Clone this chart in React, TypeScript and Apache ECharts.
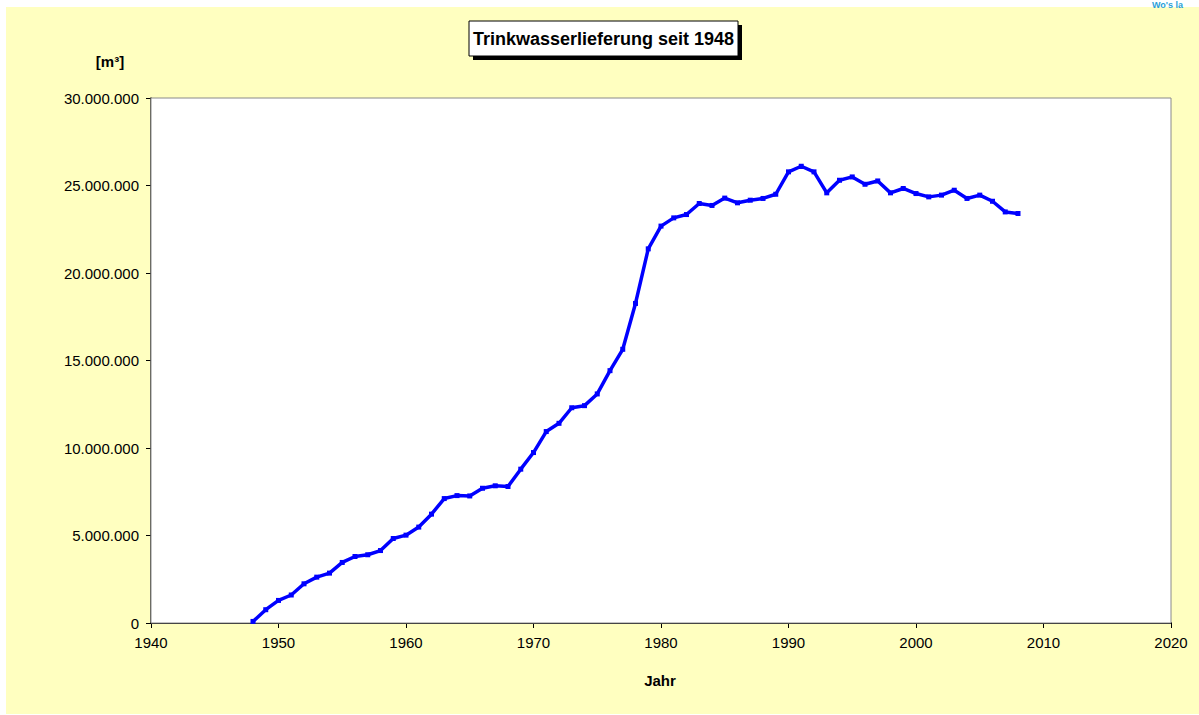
import React, { useEffect, useRef } from "react";
import * as echarts from "echarts";

const years: number[] = [
  1948, 1949, 1950, 1951, 1952, 1953, 1954, 1955, 1956, 1957, 1958, 1959,
  1960, 1961, 1962, 1963, 1964, 1965, 1966, 1967, 1968, 1969, 1970, 1971,
  1972, 1973, 1974, 1975, 1976, 1977, 1978, 1979, 1980, 1981, 1982, 1983,
  1984, 1985, 1986, 1987, 1988, 1989, 1990, 1991, 1992, 1993, 1994, 1995,
  1996, 1997, 1998, 1999, 2000, 2001, 2002, 2003, 2004, 2005, 2006, 2007,
  2008,
];

const volumes: number[] = [
  90000, 760000, 1290000, 1600000, 2240000, 2620000, 2850000, 3460000,
  3800000, 3900000, 4140000, 4830000, 5020000, 5480000, 6220000, 7110000,
  7280000, 7260000, 7700000, 7840000, 7800000, 8790000, 9740000, 10940000,
  11410000, 12300000, 12420000, 13090000, 14420000, 15640000, 18260000,
  21380000, 22680000, 23150000, 23340000, 23970000, 23860000, 24280000,
  24010000, 24160000, 24260000, 24500000, 25780000, 26100000, 25780000,
  24580000, 25300000, 25490000, 25070000, 25260000, 24580000, 24830000,
  24540000, 24350000, 24450000, 24730000, 24260000, 24450000, 24100000,
  23490000, 23400000,
];

const titleText = "Trinkwasserlieferung seit 1948";
const yUnit = "[m³]";
const xName = "Jahr";
const logoText = "Wo's la";

const FONT = "'Liberation Sans', Arial, Helvetica, sans-serif";

function fmtDE(v: number): string {
  const s = Math.round(v).toString();
  return s.replace(/\B(?=(\d{3})+(?!\d))/g, ".");
}

export default function App() {
  const ref = useRef<HTMLDivElement>(null);

  useEffect(() => {
    if (!ref.current) return;
    const chart = echarts.init(ref.current, null, { renderer: "svg" });
    const data = years.map((y, i) => [y, volumes[i]]);

    chart.setOption({
      animation: false,
      backgroundColor: "#ffffff",
      textStyle: { fontFamily: FONT },
      grid: {
        left: 151,
        top: 98,
        right: 28,
        bottom: 92,
        show: true,
        backgroundColor: "#ffffff",
        borderColor: "#8a8a8a",
        borderWidth: 1,
        z: 1,
      },
      graphic: [
        {
          type: "text",
          x: 1152,
          y: 0,
          z: 0,
          style: {
            text: logoText,
            fill: "#2a9fd8",
            font: `bold 9px ${FONT}`,
          },
        },
        {
          type: "rect",
          shape: { x: 6, y: 7, width: 1193, height: 707 },
          style: { fill: "#ffffc0" },
          z: -10,
          silent: true,
        },
        {
          type: "rect",
          shape: { x: 473, y: 25, width: 269, height: 35 },
          style: { fill: "#000000" },
          z: 5,
        },
        {
          type: "rect",
          shape: { x: 469, y: 21, width: 269, height: 35 },
          style: { fill: "#ffffff", stroke: "#000000", lineWidth: 1 },
          z: 6,
        },
        {
          type: "text",
          x: 603.5,
          y: 38.5,
          z: 7,
          style: {
            text: titleText,
            fill: "#000000",
            font: `bold 18px ${FONT}`,
            align: "center",
            verticalAlign: "middle",
          },
        },
        {
          type: "text",
          x: 110,
          y: 61,
          z: 7,
          style: {
            text: yUnit,
            fill: "#000000",
            font: `bold 15px ${FONT}`,
            align: "center",
            verticalAlign: "middle",
          },
        },
        {
          type: "text",
          x: 660,
          y: 680.5,
          z: 7,
          style: {
            text: xName,
            fill: "#000000",
            font: `bold 15px ${FONT}`,
            align: "center",
            verticalAlign: "middle",
          },
        },
      ],
      xAxis: {
        type: "value",
        min: 1940,
        max: 2020,
        interval: 10,
        axisLine: { show: true, onZero: false, lineStyle: { color: "#000000", width: 2 } },
        axisTick: { show: true, inside: false, length: 5, lineStyle: { color: "#000000", width: 1 } },
        axisLabel: {
          color: "#000000",
          fontSize: 15,
          fontFamily: FONT,
          margin: 12,
          formatter: (v: number) => String(v),
        },
        splitLine: { show: false },
      },
      yAxis: {
        type: "value",
        min: 0,
        max: 30000000,
        interval: 5000000,
        axisLine: { show: true, lineStyle: { color: "#111111", width: 1.5 } },
        axisTick: { show: true, inside: false, length: 5, lineStyle: { color: "#000000", width: 1 } },
        axisLabel: {
          color: "#000000",
          fontSize: 15,
          fontFamily: FONT,
          margin: 12,
          formatter: (v: number) => fmtDE(v),
        },
        splitLine: { show: true, lineStyle: { color: "#4a4a4a", width: 1 } },
      },
      series: [
        {
          type: "line",
          data,
          showSymbol: true,
          symbol: "rect",
          symbolSize: 5,
          itemStyle: { color: "#0000ff" },
          lineStyle: { color: "#0000ff", width: 3.5 },
          z: 3,
        },
      ],
    });

    return () => chart.dispose();
  }, []);

  return (
    <div
      ref={ref}
      style={{ position: "absolute", left: 0, top: 0, width: 1199, height: 715 }}
    />
  );
}
